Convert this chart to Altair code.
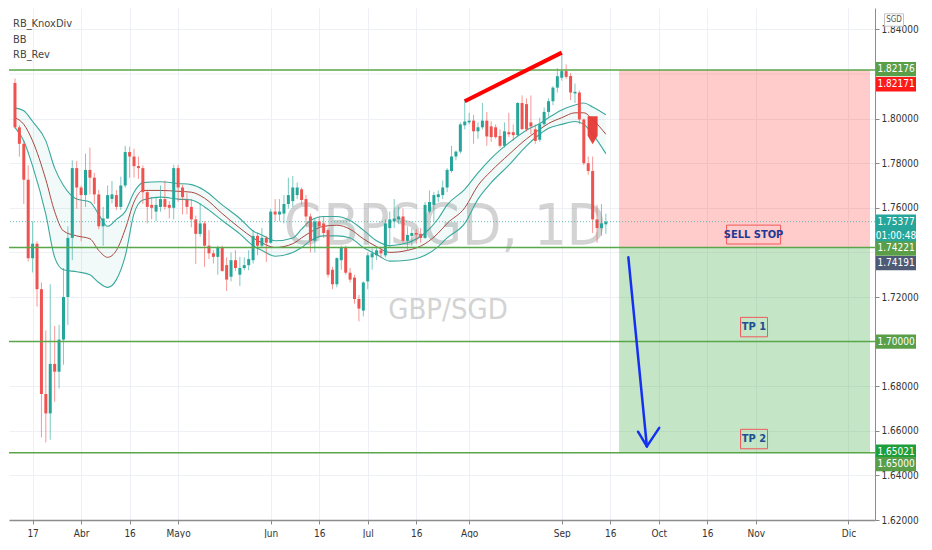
import altair as alt
import pandas as pd

# ---------------- data (GBP/SGD daily, trading-day index from 10 Mar 2020) ----------------
opens = [
1.8160,1.7961,1.7887,1.7726,1.7374,1.7439,1.7235,1.6765,1.6678,1.6900,
1.6865,1.7009,1.7200,1.7465,1.7778,1.7691,1.7657,1.7770,1.7735,1.7660,
1.7517,1.7552,1.7640,1.7657,1.7604,1.7700,1.7850,1.7830,1.7787,1.7778,
1.7670,1.7613,1.7583,1.7604,1.7639,1.7613,1.7600,1.7778,1.7691,1.7635,
1.7604,1.7548,1.7483,1.7530,1.7430,1.7396,1.7380,1.7420,1.7343,1.7291,
1.7365,1.7300,1.7330,1.7343,1.7365,1.7474,1.7430,1.7465,1.7443,1.7583,
1.7570,1.7574,1.7617,1.7630,1.7657,1.7683,1.7639,1.7561,1.7452,1.7539,
1.7530,1.7500,1.7322,1.7257,1.7365,1.7422,1.7309,1.7287,1.7191,1.7139,
1.7270,1.7378,1.7387,1.7409,1.7387,1.7509,1.7539,1.7548,1.7561,1.7452,
1.7474,1.7487,1.7483,1.7465,1.7583,1.7613,1.7648,1.7657,1.7691,1.7765,
1.7830,1.7852,1.7970,1.7983,1.7991,1.7943,1.7961,1.7991,1.7965,1.7961,
1.7922,1.7878,1.7939,1.7939,1.7926,1.8070,1.8065,1.7983,1.7952,1.7905,
1.7975,1.8030,1.8078,1.8139,1.8183,1.8213,1.8191,1.8113,1.8117,1.7996,
1.7800,1.7765,1.7548,1.7509,1.7526]
highs = [
1.8180,1.7970,1.7900,1.7790,1.7540,1.7450,1.7265,1.7050,1.7257,1.7070,
1.7075,1.7330,1.7517,1.7813,1.7810,1.7700,1.7843,1.7870,1.7757,1.7680,
1.7604,1.7700,1.7720,1.7680,1.7740,1.7878,1.7874,1.7865,1.7830,1.7790,
1.7680,1.7648,1.7650,1.7700,1.7722,1.7630,1.7793,1.7793,1.7704,1.7665,
1.7640,1.7565,1.7620,1.7540,1.7500,1.7410,1.7430,1.7430,1.7378,1.7400,
1.7410,1.7380,1.7378,1.7410,1.7500,1.7490,1.7509,1.7474,1.7596,1.7639,
1.7639,1.7657,1.7735,1.7743,1.7713,1.7691,1.7657,1.7574,1.7552,1.7561,
1.7561,1.7509,1.7335,1.7378,1.7430,1.7430,1.7330,1.7300,1.7210,1.7270,
1.7400,1.7417,1.7422,1.7422,1.7548,1.7583,1.7639,1.7604,1.7596,1.7517,
1.7509,1.7504,1.7509,1.7626,1.7678,1.7670,1.7678,1.7722,1.7778,1.7878,
1.7857,1.7983,1.8083,1.8026,1.8017,1.7983,1.8070,1.8030,1.7987,1.7974,
1.7952,1.7983,1.8026,1.7974,1.8074,1.8104,1.8091,1.8104,1.7974,1.8004,
1.8050,1.8091,1.8145,1.8226,1.8291,1.8243,1.8204,1.8157,1.8126,1.8000,
1.7830,1.7830,1.7613,1.7617,1.7574]
lows = [
1.7955,1.7830,1.7617,1.7360,1.7310,1.7157,1.6570,1.6548,1.6560,1.6730,
1.6790,1.6896,1.7074,1.7365,1.7596,1.7450,1.7604,1.7660,1.7617,1.7504,
1.7430,1.7550,1.7620,1.7590,1.7590,1.7690,1.7735,1.7735,1.7730,1.7617,
1.7530,1.7548,1.7540,1.7583,1.7591,1.7552,1.7548,1.7626,1.7570,1.7570,
1.7513,1.7348,1.7470,1.7335,1.7370,1.7350,1.7300,1.7313,1.7227,1.7270,
1.7317,1.7250,1.7320,1.7320,1.7350,1.7387,1.7422,1.7357,1.7439,1.7539,
1.7539,1.7530,1.7596,1.7604,1.7639,1.7613,1.7517,1.7400,1.7400,1.7474,
1.7465,1.7287,1.7235,1.7243,1.7322,1.7300,1.7265,1.7170,1.7091,1.7113,
1.7235,1.7322,1.7365,1.7374,1.7378,1.7422,1.7509,1.7526,1.7443,1.7409,
1.7430,1.7439,1.7443,1.7461,1.7574,1.7539,1.7626,1.7639,1.7670,1.7757,
1.7813,1.7843,1.7952,1.7974,1.7887,1.7909,1.7952,1.7878,1.7896,1.7910,
1.7870,1.7870,1.7917,1.7900,1.7922,1.7952,1.7943,1.7930,1.7887,1.7896,
1.7965,1.8009,1.8060,1.8117,1.8170,1.8178,1.8083,1.8070,1.7974,1.7791,
1.7748,1.7487,1.7443,1.7474,1.7483]
closes = [
1.7961,1.7887,1.7726,1.7374,1.7439,1.7235,1.6765,1.6678,1.6900,1.6865,
1.7009,1.7200,1.7465,1.7778,1.7691,1.7657,1.7770,1.7735,1.7660,1.7517,
1.7552,1.7657,1.7660,1.7604,1.7700,1.7850,1.7830,1.7787,1.7778,1.7670,
1.7604,1.7600,1.7613,1.7639,1.7604,1.7600,1.7778,1.7691,1.7648,1.7604,
1.7548,1.7483,1.7530,1.7430,1.7396,1.7380,1.7420,1.7317,1.7278,1.7365,
1.7330,1.7330,1.7343,1.7370,1.7474,1.7430,1.7465,1.7443,1.7583,1.7570,
1.7583,1.7617,1.7657,1.7691,1.7691,1.7635,1.7561,1.7452,1.7539,1.7517,
1.7487,1.7300,1.7257,1.7374,1.7422,1.7309,1.7278,1.7191,1.7148,1.7265,
1.7387,1.7396,1.7409,1.7396,1.7530,1.7548,1.7552,1.7561,1.7452,1.7478,
1.7487,1.7480,1.7465,1.7613,1.7626,1.7657,1.7661,1.7691,1.7770,1.7830,
1.7852,1.7974,1.7987,1.7991,1.7943,1.7961,1.7991,1.7920,1.7917,1.7917,
1.7878,1.7943,1.7930,1.7926,1.8070,1.7952,1.7952,1.7965,1.7900,1.7975,
1.8030,1.8078,1.8139,1.8190,1.8213,1.8187,1.8117,1.8120,1.7996,1.7800,
1.7765,1.7548,1.7509,1.7530,1.7538]
days = list(range(1, len(opens) + 1))

# Bollinger-style bands (sampled)
band_day = [1,3,5,8,10,12,15,18,20,22,24,26,28,30,34,38,41,44,48,52,55,57,60,64,66,68,71,74,77,80,
            83,86,90,94,97,99,103,106,109,113,117,120,122,125,128,130,132,135]
band_up = [1.8048,1.8035,1.7987,1.7900,1.7778,1.7700,1.7639,1.7626,1.7570,1.7517,1.7548,1.7583,1.7670,1.7713,
           1.7717,1.7709,1.7704,1.7678,1.7613,1.7552,1.7496,1.7478,1.7452,1.7465,1.7504,1.7543,1.7561,1.7561,
           1.7543,1.7500,1.7452,1.7430,1.7443,1.7487,1.7552,1.7613,1.7683,1.7757,1.7822,1.7891,1.7948,1.7978,
           1.8004,1.8039,1.8061,1.8070,1.8052,1.8017]
band_mid = [1.8004,1.7974,1.7900,1.7726,1.7583,1.7496,1.7474,1.7461,1.7409,1.7378,1.7409,1.7504,1.7626,1.7678,
            1.7678,1.7674,1.7670,1.7643,1.7574,1.7509,1.7465,1.7443,1.7422,1.7439,1.7465,1.7491,1.7517,1.7522,
            1.7504,1.7461,1.7426,1.7400,1.7409,1.7439,1.7487,1.7530,1.7600,1.7700,1.7765,1.7839,1.7909,1.7952,
            1.7978,1.8004,1.8026,1.8026,1.7996,1.7930]
band_lo = [1.7961,1.7900,1.7787,1.7570,1.7378,1.7322,1.7313,1.7300,1.7265,1.7243,1.7278,1.7383,1.7574,1.7635,
           1.7648,1.7639,1.7635,1.7604,1.7543,1.7483,1.7430,1.7409,1.7383,1.7400,1.7422,1.7452,1.7474,1.7474,
           1.7465,1.7422,1.7391,1.7361,1.7365,1.7387,1.7426,1.7465,1.7530,1.7639,1.7713,1.7791,1.7878,1.7930,
           1.7957,1.7974,1.7987,1.7974,1.7930,1.7843]

# drawings
level_p = [1.82176, 1.74221, 1.70000, 1.65021]
last_price = 1.75377
pos_day = [138, 194.9]
pos_entry, pos_stop, pos_target = 1.74221, 1.82176, 1.65021
div_day = [103, 125]
div_p = [1.8078, 1.8296]
rev_day = [132]
rev_p = [1.7948]
arrow_d0 = [140.1, 144.3, 144.3]
arrow_p0 = [1.7378, 1.6530, 1.6530]
arrow_d1 = [144.3, 142.3, 147.1]
arrow_p1 = [1.6530, 1.6596, 1.6613]
note_text = ["SELL STOP", "TP 1", "TP 2"]
note_day = [168.5, 168.6, 168.6]
note_p = [1.7480, 1.7065, 1.6563]

tick_day = [5, 16, 27, 38, 59, 70, 81, 92, 104, 125, 136, 147, 158, 169, 190]
tick_lab = ["17", "Abr", "16", "Mayo", "Jun", "16", "Jul", "16", "Ago", "Sep", "16", "Oct", "16", "Nov", "Dic"]
# axis prices whose labels are not covered by a price tag
price_ticks = [1.62, 1.64, 1.66, 1.68, 1.72, 1.76, 1.78, 1.80, 1.84]
# axis prices whose labels sit under a price tag (only their grid line shows)
covered_ticks = [1.70, 1.74, 1.82]

tag_p = [1.82176, 1.82171, 1.75377, 1.75377, 1.74221, 1.74191, 1.70000, 1.65021, 1.65000]
tag_text = ["1.82176", "1.82171", "1.75377", "01:00:48", "1.74221", "1.74191", "1.70000", "1.65021", "1.65000"]
tag_color = ["#5b9e48", "#ff1a1a", "#26a69a", "#26a69a", "#5b9e48", "#4f5a74", "#5b9e48", "#1f9e3c", "#5b9e48"]
tag_shift = [-1, 14, 0, 14, 1, 15, 0, -1, 11]

legend_names = ["RB_KnoxDiv", "BB", "RB_Rev"]

# ---------------- styling ----------------
W, H = 866, 512
D_MIN, D_MAX = 0.78, 194.9
P_MIN, P_MAX = 1.62, 1.8496
UP, DN = "#26a69a", "#ef5350"
LINE_G = "#5aa64a"
GRID = "#edf0f4"
FONT = "Liberation Sans Narrow, Arial Narrow, DejaVu Sans Condensed, Liberation Sans, Arial, sans-serif"

xs = alt.Scale(domain=[D_MIN, D_MAX], nice=False, zero=False)
ys = alt.Scale(domain=[P_MIN, P_MAX], nice=False, zero=False)
lab_expr = "[" + ",".join("'%s'" % t for t in tick_lab) + "][indexof([" + ",".join(str(v) for v in tick_day) + "], datum.value)]"
xaxis = alt.Axis(values=tick_day, labelExpr=lab_expr, title="", grid=True, gridColor=GRID,
                 tickSize=4, tickColor="#888888", domainColor="#8c8c8c", domainWidth=1.5,
                 labelFontSize=10, labelColor="#333333", labelPadding=4, labelFont=FONT)
yaxis = alt.Axis(values=price_ticks, format=".5f", orient="right", title="", grid=True, gridColor=GRID,
                 tickSize=4, tickColor="#888888", domainColor="#8c8c8c", labelFontSize=10,
                 labelColor="#333333", labelPadding=2, labelFont=FONT)


def X(f):
    return alt.X(f + ":Q", scale=xs, axis=xaxis)


def Y(f):
    return alt.Y(f + ":Q", scale=ys, axis=yaxis)


candles = pd.DataFrame({"d": days, "o": opens, "h": highs, "l": lows, "c": closes})
bands = pd.DataFrame({"d": band_day, "u": band_up, "m": band_mid, "lo": band_lo})
levels = pd.DataFrame({"p": level_p})
one = pd.DataFrame({"z": [0]})

extra_grid = alt.Chart(pd.DataFrame({"p": covered_ticks})).mark_rule(color=GRID, strokeWidth=1).encode(y=Y("p"))

pos = pd.DataFrame({"d0": [pos_day[0]], "d1": [pos_day[1]], "e": [pos_entry], "s": [pos_stop], "t": [pos_target]})
red_box = alt.Chart(pos).mark_rect(color="#ff5252", opacity=0.3).encode(x=X("d0"), x2=alt.X2("d1"), y=Y("e"), y2=alt.Y2("s"))
green_box = alt.Chart(pos).mark_rect(color="#4caf50", opacity=0.32).encode(x=X("d0"), x2=alt.X2("d1"), y=Y("t"), y2=alt.Y2("e"))

wm1 = alt.Chart(one).mark_text(text="GBPSGD, 1D", fontSize=57, font=FONT, color="#9e9e9e", opacity=0.45,
                               align="center", baseline="middle").encode(x=alt.value(436), y=alt.value(220))
wm2 = alt.Chart(one).mark_text(text="GBP/SGD", fontSize=29, font=FONT, color="#9e9e9e", opacity=0.45,
                               align="center", baseline="middle").encode(x=alt.value(439), y=alt.value(302))

band_fill = alt.Chart(bands).mark_area(interpolate="monotone", color=UP, opacity=0.06).encode(x=X("d"), y=Y("lo"), y2=alt.Y2("u"))
band_u = alt.Chart(bands).mark_line(interpolate="monotone", color="#3aa99c", strokeWidth=1.1).encode(x=X("d"), y=Y("u"))
band_l = alt.Chart(bands).mark_line(interpolate="monotone", color="#3aa99c", strokeWidth=1.1).encode(x=X("d"), y=Y("lo"))
band_m = alt.Chart(bands).mark_line(interpolate="monotone", color="#a9473f", strokeWidth=1.0).encode(x=X("d"), y=Y("m"))

col = alt.condition("datum.c >= datum.o", alt.value(UP), alt.value(DN))
wicks = alt.Chart(candles).mark_rule(strokeWidth=1, opacity=0.6).encode(x=X("d"), y=Y("l"), y2=alt.Y2("h"), color=col)
bodies = alt.Chart(candles).mark_bar(size=3).encode(x=X("d"), y=Y("o"), y2=alt.Y2("c"), color=col)

hlines = alt.Chart(levels).mark_rule(color=LINE_G, strokeWidth=1.5).encode(y=Y("p"))
lastline = alt.Chart(pd.DataFrame({"p": [last_price]})).mark_rule(color=UP, strokeDash=[1, 2], strokeWidth=1, opacity=0.7).encode(y=Y("p"))

div = alt.Chart(pd.DataFrame({"d": div_day, "p": div_p})).mark_line(color="#ff0000", strokeWidth=4).encode(x=X("d"), y=Y("p"))

PENT = "M-1,-2.8L1,-2.8L1,1.1L0,2.8L-1,1.1Z"
rev = alt.Chart(pd.DataFrame({"d": rev_day, "p": rev_p})).mark_point(shape=PENT, size=100, filled=True, color="#e53935",
                                                                     opacity=0.95).encode(x=X("d"), y=Y("p"))

arrow = alt.Chart(pd.DataFrame({"d0": arrow_d0, "p0": arrow_p0, "d1": arrow_d1, "p1": arrow_p1})).mark_rule(
    color="#1530f0", strokeWidth=2.5, strokeCap="round").encode(x=X("d0"), y=Y("p0"), x2=alt.X2("d1"), y2=alt.Y2("p1"))

notes = pd.DataFrame({"d": note_day, "p": note_p, "t": note_text})
BOX_WIDE = "M-1,-0.35L1,-0.35L1,0.35L-1,0.35Z"
BOX_SMALL = "M-1,-0.72L1,-0.72L1,0.72L-1,0.72Z"
note_box1 = alt.Chart(notes.iloc[:1]).mark_point(shape=BOX_WIDE, size=54 * 54, filled=False, color="#f05a5a",
                                                 strokeWidth=1, opacity=1).encode(x=X("d"), y=Y("p"))
note_box2 = alt.Chart(notes.iloc[1:]).mark_point(shape=BOX_SMALL, size=27 * 27, filled=False, color="#f05a5a",
                                                 strokeWidth=1, opacity=1).encode(x=X("d"), y=Y("p"))
note_txt1 = alt.Chart(notes.iloc[:1]).mark_text(font=FONT, fontSize=11, color="#1e3a96", fontWeight="bold").encode(
    x=X("d"), y=Y("p"), text="t:N")
note_txt2 = alt.Chart(notes.iloc[1:]).mark_text(font=FONT, fontSize=11, color="#1c4f8e", fontWeight="bold").encode(
    x=X("d"), y=Y("p"), text="t:N")

layers = [extra_grid, red_box, green_box, wm1, wm2, band_fill, band_u, band_l, band_m, wicks, bodies,
          hlines, lastline, div, rev, arrow, note_box1, note_box2, note_txt1, note_txt2]

for i, name in enumerate(legend_names):
    layers.append(alt.Chart(one).mark_text(text=name, font=FONT, fontSize=11, color="#444444", align="left",
                                           baseline="middle").encode(x=alt.value(4), y=alt.value(16 + 15.5 * i)))

TAG = "M-1,-0.36L1,-0.36L1,0.36L-1,0.36Z"
for v, t, c, s in zip(tag_p, tag_text, tag_color, tag_shift):
    d = pd.DataFrame({"p": [v], "t": [t]})
    layers.append(alt.Chart(d).mark_point(shape=TAG, size=40 * 40, filled=True, color=c, opacity=1,
                                          yOffset=s).encode(x=alt.value(W + 21), y=Y("p")))
    layers.append(alt.Chart(d).mark_text(font=FONT, fontSize=10, color="white", yOffset=s).encode(
        x=alt.value(W + 21), y=Y("p"), text="t:N"))

SGDBOX = "M-1,-0.65L1,-0.65L1,0.65L-1,0.65Z"
layers.append(alt.Chart(one).mark_point(shape=SGDBOX, size=19 * 19, filled=True, color="white", stroke="#c4c4c4",
                                        strokeWidth=1, opacity=1).encode(x=alt.value(W + 19), y=alt.value(12)))
layers.append(alt.Chart(one).mark_text(text="SGD", font=FONT, fontSize=8, color="#555555").encode(
    x=alt.value(W + 19), y=alt.value(12)))

chart = alt.layer(*layers).properties(width=W, height=H, padding=0, background="white").configure_view(strokeWidth=0)

chart.save("out.html", embed_options={"renderer": "svg", "actions": False})
